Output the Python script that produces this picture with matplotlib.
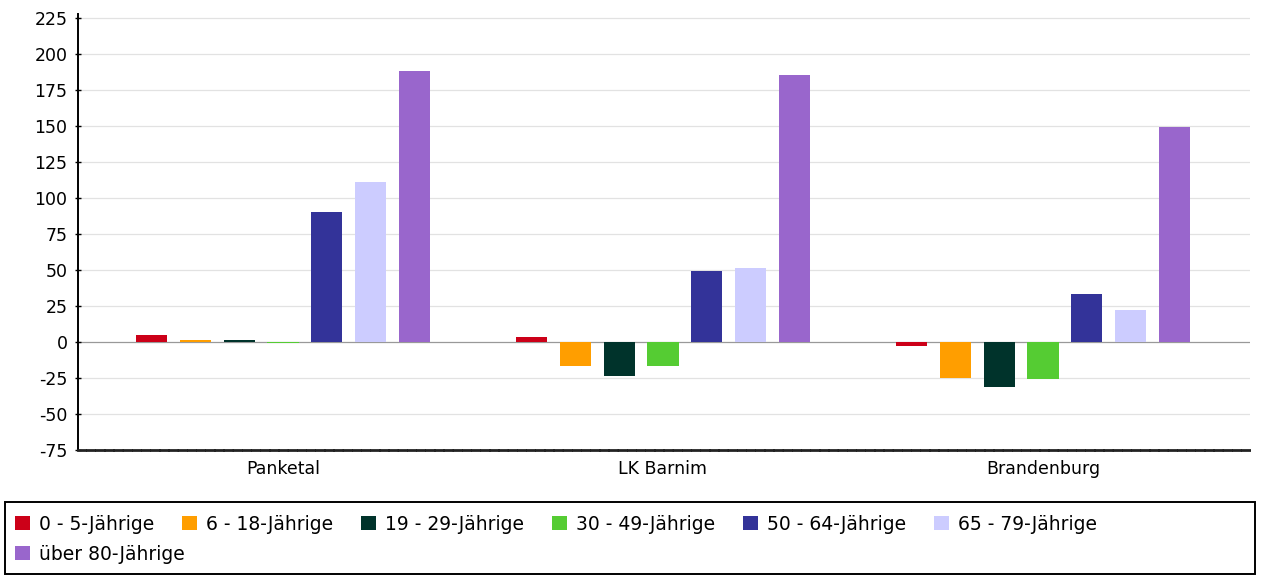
import matplotlib
matplotlib.use("Agg")
import matplotlib.pyplot as plt
import numpy as np
from matplotlib.patches import Rectangle, Patch

categories = ["Panketal", "LK Barnim", "Brandenburg"]
series_names = ["0 - 5-Jährige", "6 - 18-Jährige", "19 - 29-Jährige", "30 - 49-Jährige",
                "50 - 64-Jährige", "65 - 79-Jährige", "über 80-Jährige"]
age_0_5 = [5, 3.5, -3]
age_6_18 = [1.5, -17, -25]
age_19_29 = [1.5, -23.5, -31]
age_30_49 = [-0.8, -16.5, -26]
age_50_64 = [90, 49, 33]
age_65_79 = [111, 51, 22]
age_80 = [188, 185, 149]
series_values = [age_0_5, age_6_18, age_19_29, age_30_49, age_50_64, age_65_79, age_80]
colors = ["#cc0018", "#ff9e00", "#00332b", "#55cc33", "#333399", "#ccccff", "#9966cc"]
yticks = [-75, -50, -25, 0, 25, 50, 75, 100, 125, 150, 175, 200, 225]

plt.rcParams['font.family'] = ['DejaVu Sans']
fig = plt.figure(figsize=(12.62, 5.77), dpi=100)
ax = fig.add_axes([78/1262, 1-450/577, 1172/1262, (450-14)/577])

x = np.arange(len(categories))
step = 0.115
width = 0.082
n = len(series_values)
for i, (vals, c) in enumerate(zip(series_values, colors)):
    ax.bar(x + (i - (n-1)/2) * step, vals, width=width, color=c, zorder=3)

ax.set_ylim(-75, 227.5)
ax.set_xlim((78-283)/380, (1250-283)/380)
ax.set_yticks(yticks)
ax.set_yticklabels([str(t) for t in yticks], fontsize=12.5)
ax.set_xticks(x)
ax.set_xticklabels(categories, fontsize=12.5)
ax.tick_params(axis='x', length=0, pad=7)
ax.tick_params(axis='y', direction='inout', length=5, width=1, pad=5)
for t in yticks:
    if t == -75:
        continue
    ax.axhline(t, color='#999999' if t == 0 else '#e2e2e2', lw=0.9, zorder=1)
for s in ['top', 'right']:
    ax.spines[s].set_visible(False)
ax.spines['left'].set_color('black')
ax.spines['left'].set_linewidth(1.4)
ax.spines['bottom'].set_color('#222222')
ax.spines['bottom'].set_linewidth(2)
ax.spines['bottom'].set_linestyle((0, (2.5, 0.8)))

# Legend frame
fig.patches.append(Rectangle((5/1262, 1-574/577), 1250/1262, 72/577, transform=fig.transFigure,
                             fill=False, edgecolor='black', linewidth=1.4))
handles = [Patch(facecolor=c, edgecolor='none') for c in colors]
common = dict(frameon=False, fontsize=13.5, handlelength=0.8, handleheight=0.8,
              handletextpad=0.5, borderaxespad=0, borderpad=0.2)
leg1 = fig.legend(handles[:6], series_names[:6], ncol=6, loc='center left',
                  bbox_to_anchor=(11/1262, 1-524/577), columnspacing=1.47, **common)
leg2 = fig.legend(handles[6:], series_names[6:], ncol=1, loc='center left',
                  bbox_to_anchor=(11/1262, 1-554/577), **common)

fig.savefig("out.png", dpi=100)
